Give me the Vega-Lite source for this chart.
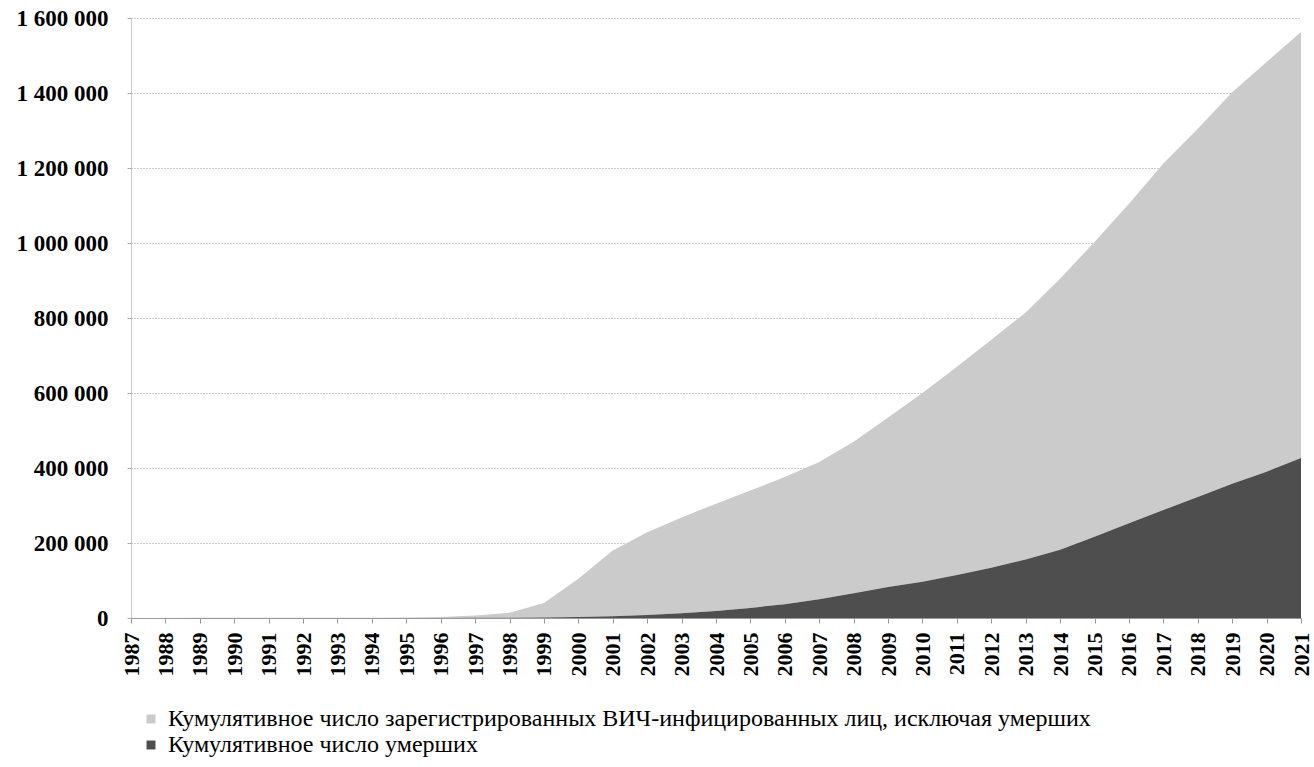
{
  "$schema": "https://vega.github.io/schema/vega-lite/v6.json",
  "width": 1170,
  "height": 600,
  "autosize": {"type": "none"},
  "padding": {"left": 131, "top": 18, "right": 13, "bottom": 149},
  "background": "white",
  "config": {"view": {"stroke": null}},
  "data": {
    "values": [
      {"year": 1987, "living": 130, "deaths": 0},
      {"year": 1988, "living": 245, "deaths": 5},
      {"year": 1989, "living": 530, "deaths": 20},
      {"year": 1990, "living": 610, "deaths": 40},
      {"year": 1991, "living": 690, "deaths": 60},
      {"year": 1992, "living": 720, "deaths": 80},
      {"year": 1993, "living": 790, "deaths": 110},
      {"year": 1994, "living": 850, "deaths": 150},
      {"year": 1995, "living": 900, "deaths": 200},
      {"year": 1996, "living": 2300, "deaths": 300},
      {"year": 1997, "living": 6300, "deaths": 500},
      {"year": 1998, "living": 13100, "deaths": 900},
      {"year": 1999, "living": 38400, "deaths": 1600},
      {"year": 2000, "living": 102500, "deaths": 2500},
      {"year": 2001, "living": 175500, "deaths": 4500},
      {"year": 2002, "living": 221000, "deaths": 8000},
      {"year": 2003, "living": 255000, "deaths": 13000},
      {"year": 2004, "living": 286000, "deaths": 19000},
      {"year": 2005, "living": 313000, "deaths": 27000},
      {"year": 2006, "living": 339000, "deaths": 37000},
      {"year": 2007, "living": 366000, "deaths": 50000},
      {"year": 2008, "living": 404000, "deaths": 66000},
      {"year": 2009, "living": 452000, "deaths": 83000},
      {"year": 2010, "living": 503000, "deaths": 97000},
      {"year": 2011, "living": 555000, "deaths": 115000},
      {"year": 2012, "living": 608000, "deaths": 134000},
      {"year": 2013, "living": 659000, "deaths": 156000},
      {"year": 2014, "living": 723000, "deaths": 182000},
      {"year": 2015, "living": 786000, "deaths": 217000},
      {"year": 2016, "living": 852000, "deaths": 253000},
      {"year": 2017, "living": 924000, "deaths": 288000},
      {"year": 2018, "living": 982000, "deaths": 323000},
      {"year": 2019, "living": 1044000, "deaths": 358000},
      {"year": 2020, "living": 1093000, "deaths": 390000},
      {"year": 2021, "living": 1136000, "deaths": 427000}
    ]
  },
  "transform": [{"fold": ["living", "deaths"], "as": ["series", "value"]}],
  "mark": {"type": "area", "interpolate": "linear"},
  "encoding": {
    "x": {
      "field": "year",
      "type": "quantitative",
      "scale": {"domain": [1987, 2021], "nice": false, "zero": false},
      "axis": {
        "values": [1987,1988,1989,1990,1991,1992,1993,1994,1995,1996,1997,1998,1999,2000,2001,2002,2003,2004,2005,2006,2007,2008,2009,2010,2011,2012,2013,2014,2015,2016,2017,2018,2019,2020,2021],
        "format": "d",
        "labelAngle": 270,
        "labelFont": "Liberation Serif",
        "labelFontWeight": "bold",
        "labelFontSize": 22,
        "labelColor": "black",
        "labelPadding": 9,
        "labelOverlap": false,
        "labelBound": false,
        "labelFlush": false,
        "tickSize": 5,
        "tickColor": "#999999",
        "domainColor": "#999999",
        "grid": false,
        "title": null
      }
    },
    "y": {
      "field": "value",
      "type": "quantitative",
      "stack": "zero",
      "scale": {"domain": [0, 1600000], "nice": false},
      "axis": {
        "values": [0, 200000, 400000, 600000, 800000, 1000000, 1200000, 1400000, 1600000],
        "labelExpr": "replace(format(datum.value, ','), regexp(',', 'g'), ' ')",
        "labelFont": "Liberation Serif",
        "labelFontWeight": "bold",
        "labelFontSize": 23,
        "labelColor": "black",
        "labelPadding": 19,
        "tickSize": 4,
        "tickColor": "#aaaaaa",
        "domainColor": "#999999",
        "domainDash": [1, 1],
        "grid": true,
        "gridColor": "#999999",
        "gridDash": [1, 2],
        "title": null
      }
    },
    "color": {
      "field": "series",
      "type": "nominal",
      "scale": {"domain": ["living", "deaths"], "range": ["#cbcbcb", "#4e4e4e"]},
      "legend": {
        "orient": "none",
        "legendX": 8,
        "legendY": 689,
        "direction": "vertical",
        "title": null,
        "padding": 0,
        "symbolType": "square",
        "symbolSize": 80,
        "symbolStrokeWidth": 0,
        "labelFont": "Liberation Serif",
        "labelFontSize": 24,
        "labelColor": "black",
        "labelLimit": 2000,
        "labelOffset": 5,
        "rowPadding": 2,
        "labelExpr": "datum.value == 'living' ? 'Кумулятивное число зарегистрированных  ВИЧ-инфицированных лиц, исключая умерших' : 'Кумулятивное число умерших'"
      }
    },
    "order": {"field": "series", "sort": "ascending"}
  }
}
